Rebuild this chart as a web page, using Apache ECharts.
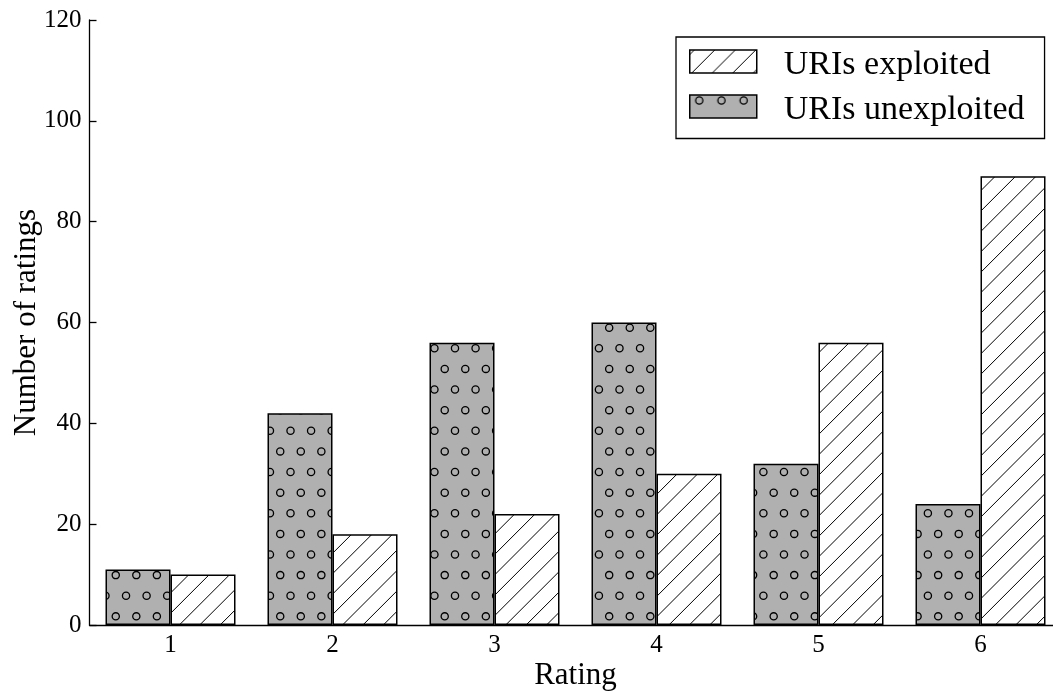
<!DOCTYPE html>
<html>
<head>
<meta charset="utf-8">
<title>Ratings</title>
<script src="https://cdn.jsdelivr.net/npm/echarts@6/dist/echarts.min.js"></script>
<style>
  html, body { margin: 0; padding: 0; background: #ffffff; }
  #chart { width: 1053px; height: 692px; }
</style>
</head>
<body>
<div id="chart"></div>
<script>
// Ratings (1..6) and how many URIs got each rating
const categories = ['1', '2', '3', '4', '5', '6'];
const unexploited = [11, 42, 56, 60, 32, 24];
const exploited = [10, 18, 22, 30, 56, 89];
const seriesNames = ['URIs unexploited', 'URIs exploited'];
const yMin = 0, yMax = 120, yStep = 20;

const FONT = 'Liberation Serif';
const GREY = '#b0b0b0';

// Circle hatch: staggered lattice of small open circles on grey
function circleFill(w, h, x0, y0, dx, dy, r) {
  const c = document.createElement('canvas');
  c.width = w; c.height = h;
  const g = c.getContext('2d');
  g.fillStyle = GREY;
  g.fillRect(0, 0, w, h);
  g.strokeStyle = '#000';
  g.lineWidth = 1.3;
  const rFirst = Math.floor((-10 - y0) / dy);
  const rLast = Math.ceil((h + 10 - y0) / dy);
  for (let row = rFirst; row <= rLast; row++) {
    const y = y0 + row * dy;
    const shift = (Math.abs(row) % 2 === 1) ? -dx / 2 : 0;
    const mFirst = Math.floor((-10 - x0 - shift) / dx);
    const mLast = Math.ceil((w + 10 - x0 - shift) / dx);
    for (let m = mFirst; m <= mLast; m++) {
      const x = x0 + shift + m * dx;
      g.beginPath();
      g.arc(x, y, r, 0, Math.PI * 2);
      g.stroke();
    }
  }
  return { image: c, repeat: 'no-repeat' };
}

// Diagonal "/" hatch on white
function slashFill(w, h, c0, step) {
  const c = document.createElement('canvas');
  c.width = w; c.height = h;
  const g = c.getContext('2d');
  g.fillStyle = '#ffffff';
  g.fillRect(0, 0, w, h);
  g.strokeStyle = '#000';
  g.lineWidth = 1;
  const kFirst = Math.floor(-c0 / step) - 1;
  const kLast = Math.ceil((w + h - c0) / step) + 1;
  for (let k = kFirst; k <= kLast; k++) {
    const s = c0 + k * step;
    g.beginPath();
    g.moveTo(s, 0);
    g.lineTo(s - h, h);
    g.stroke();
  }
  return { image: c, repeat: 'no-repeat' };
}

const W = 1053, H = 692;
const dotsFill = circleFill(W, H, 455, 348.3, 20.56, 20.62, 3.6);
const linesFill = slashFill(W, H, 804.3, 20.4);
const dotsKey = circleFill(67, 23, 9.5, 5.5, 22.2, 41, 3.6);
const linesKey = slashFill(67, 23, 25, 20.5);

const chart = echarts.init(document.getElementById('chart'), null, { renderer: 'canvas' });

chart.setOption({
  animation: false,
  backgroundColor: '#ffffff',
  textStyle: { fontFamily: FONT, color: '#000' },
  grid: { left: 89.5, top: 20, width: 972, height: 605, containLabel: false, outerBoundsMode: 'none' },
  legend: {
    orient: 'vertical',
    left: 676,
    top: 37,
    padding: [3.5, 20, 11, 13],
    itemWidth: 67,
    itemHeight: 23,
    itemGap: 3,
    icon: 'rect',
    borderColor: '#000',
    borderWidth: 1.3,
    borderRadius: 0,
    backgroundColor: '#ffffff',
    formatter: '{t|{name}}',
    textStyle: {
      fontFamily: FONT, fontSize: 34, color: '#000',
      rich: { t: { fontFamily: FONT, fontSize: 34, lineHeight: 34, color: '#000', padding: [8, 0, 0, 22] } }
    },
    itemStyle: { borderColor: '#000', borderWidth: 1.5 },
    data: [
      { name: seriesNames[1], itemStyle: { color: linesKey } },
      { name: seriesNames[0], itemStyle: { color: dotsKey } }
    ]
  },
  xAxis: {
    type: 'category',
    data: categories,
    boundaryGap: true,
    name: 'Rating',
    nameLocation: 'middle',
    nameGap: 35,
    nameMoveOverlap: false,
    nameTextStyle: { fontFamily: FONT, fontSize: 31, color: '#000' },
    axisLine: { show: true, lineStyle: { color: '#000', width: 1.3 } },
    axisTick: { show: false },
    axisLabel: { fontFamily: FONT, fontSize: 25, color: '#000', margin: 8 },
    splitLine: { show: false }
  },
  yAxis: {
    type: 'value',
    min: yMin,
    max: yMax,
    interval: yStep,
    name: 'Number of ratings',
    nameLocation: 'middle',
    nameGap: 47.5,
    nameMoveOverlap: false,
    nameTextStyle: { fontFamily: FONT, fontSize: 31, color: '#000' },
    axisLine: { show: true, lineStyle: { color: '#000', width: 1.3 } },
    axisTick: { show: true, inside: true, length: 7, lineStyle: { color: '#000', width: 1.3 } },
    axisLabel: { fontFamily: FONT, fontSize: 25, color: '#000', margin: 8 },
    splitLine: { show: false }
  },
  series: [
    {
      name: seriesNames[0],
      type: 'bar',
      data: unexploited,
      barWidth: 65,
      barGap: '0%',
      itemStyle: { color: dotsFill, borderColor: '#000', borderWidth: 1.5 },
      emphasis: { disabled: true }
    },
    {
      name: seriesNames[1],
      type: 'bar',
      data: exploited,
      barWidth: 65,
      barGap: '0%',
      itemStyle: { color: linesFill, borderColor: '#000', borderWidth: 1.5 },
      emphasis: { disabled: true }
    }
  ]
});
</script>
</body>
</html>
